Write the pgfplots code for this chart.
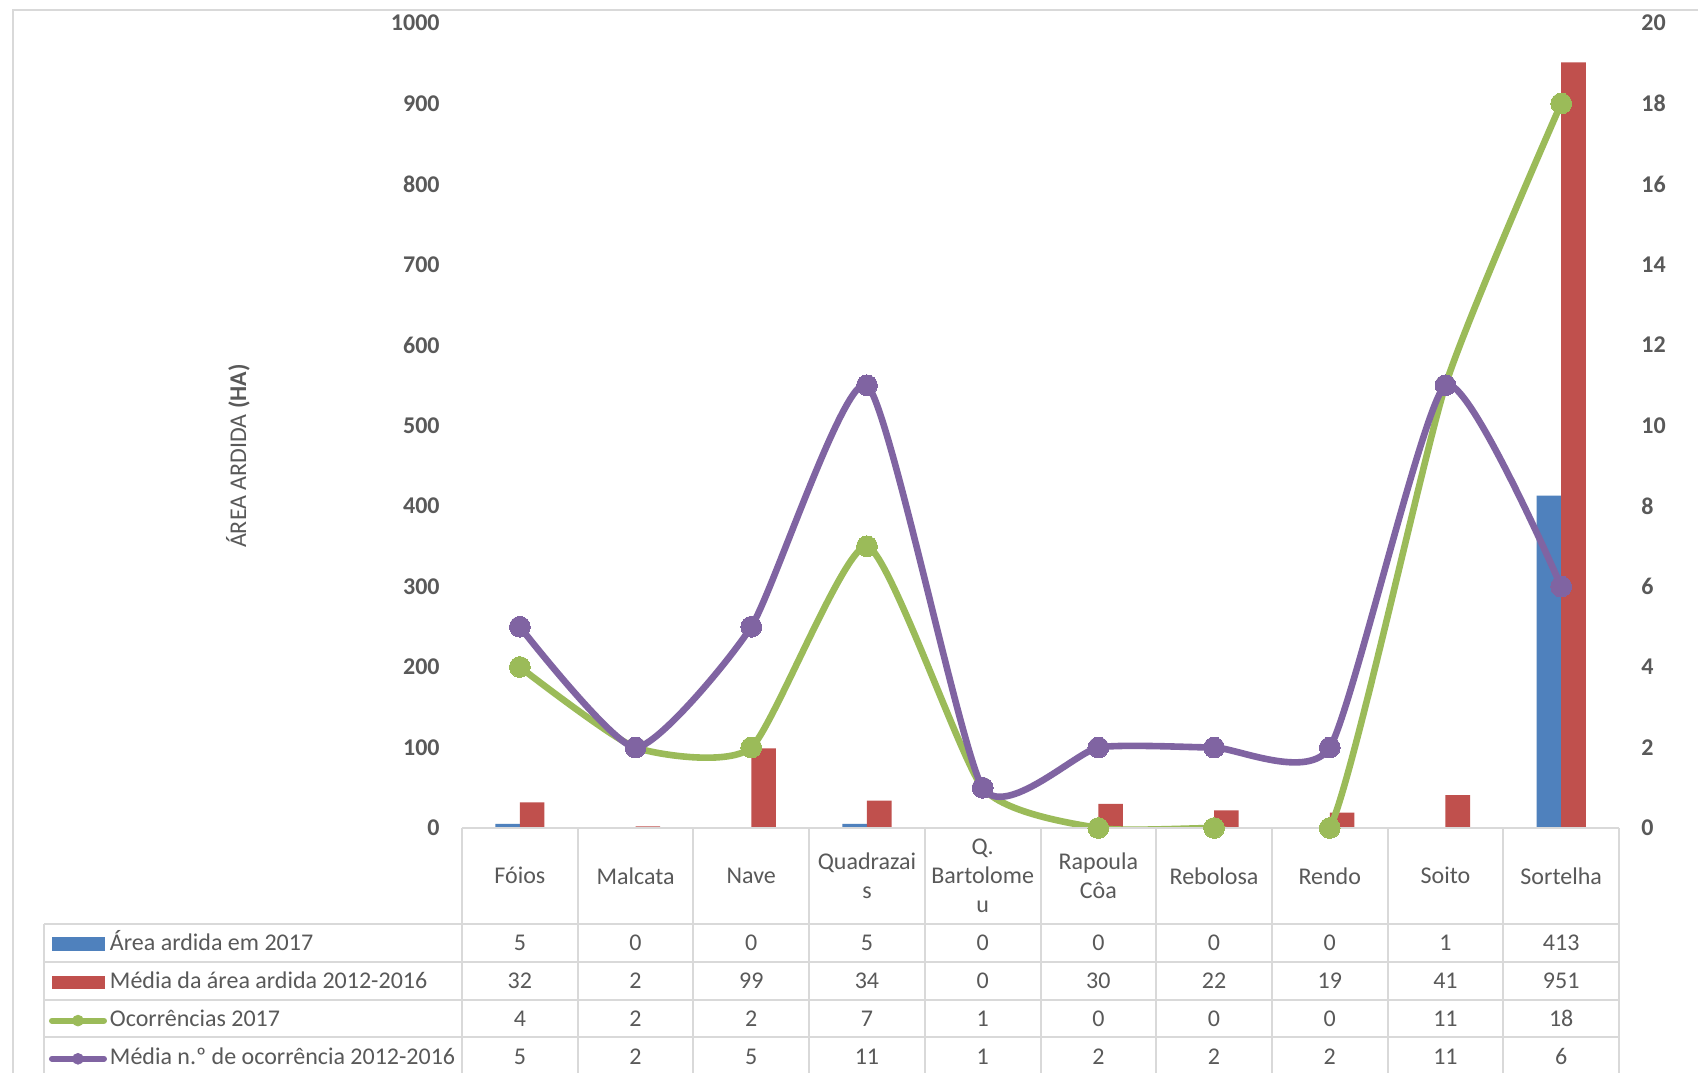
\documentclass[border=0pt]{standalone}
\usepackage{pgfplots}
\usepackage{pgfplotstable}
\pgfplotsset{compat=1.18}
\usepackage{fontspec}
\setmainfont{Carlito}
\definecolor{cblue}{HTML}{4F81BD}
\definecolor{cred}{HTML}{C0504D}
\definecolor{cgreen}{HTML}{9BBB59}
\definecolor{cpurple}{HTML}{8064A2}
\definecolor{ctext}{HTML}{595959}
\definecolor{cgrid}{HTML}{D9D9D9}
\newcommand{\tf}{\fontsize{12}{14.5}\selectfont}
\pgfplotsset{
  bluekey/.style={legend image code/.code={\fill[cblue] (0pt,-3.2pt) rectangle (26pt,3.2pt);}},
  redkey/.style={legend image code/.code={\fill[cred] (0pt,-3.2pt) rectangle (26pt,3.2pt);}},
  greenkey/.style={legend image code/.code={\draw[color=cgreen, line width=3pt, line cap=round] (0pt,0pt) -- (26pt,0pt); \fill[cgreen] (13pt,0pt) circle (2.7pt);}},
  purplekey/.style={legend image code/.code={\draw[color=cpurple, line width=3pt, line cap=round] (0pt,0pt) -- (26pt,0pt); \fill[cpurple] (13pt,0pt) circle (2.7pt);}},
  frame/.style={at={(231pt,-414pt)}, anchor=south west,
    width=578.5pt, height=402.5pt, scale only axis,
    xmin=-0.5, xmax=9.5, clip=false},
}
\pgfplotstableread{
i a b c d
0 5 32 4 5
1 0 2 2 2
2 0 99 2 5
3 5 34 7 11
4 0 0 1 1
5 0 30 0 2
6 0 22 0 2
7 0 19 0 2
8 1 41 11 11
9 413 951 18 6
}\data
\begin{document}
\begin{tikzpicture}
\useasboundingbox (0pt,0pt) rectangle (849pt,-536pt);
\fill[white] (0pt,0pt) rectangle (849pt,-536pt);
\draw[cgrid, line width=1pt] (6.5pt,-540pt) -- (6.5pt,-4.9pt) -- (852pt,-4.9pt);
% bars (left axis)
\begin{axis}[frame,
  ymin=0, ymax=1000,
  axis y line*=left, axis x line=none, xtick=\empty,
  axis line style={draw=none},
  ytick={0,100,...,1000}, major tick length=0pt,
  yticklabel style={font=\tf\bfseries, text=ctext, inner sep=0pt, xshift=-11pt},
  /pgf/number format/assume math mode=true,
  /pgf/number format/set thousands separator={},
  ybar, bar width=12.3pt,
]
\addplot[fill=cblue, draw=none, bar shift=-6.15pt] table[x=i,y=a]{\data};
\addplot[fill=cred, draw=none, bar shift=6.15pt] table[x=i,y=b]{\data};
\end{axis}
% lines (right axis)
\begin{axis}[frame,
  ymin=0, ymax=20,
  axis y line*=right, axis x line=none, xtick=\empty,
  axis line style={draw=none},
  ytick={0,2,...,20}, major tick length=0pt,
  yticklabel style={font=\tf\bfseries, text=ctext, inner sep=0pt, xshift=11pt},
  /pgf/number format/assume math mode=true,
]
\addplot[color=cgreen, line width=3.3pt, smooth, tension=0.333, no marks] table[x=i,y=c]{\data};
\addplot[color=cpurple, line width=3.3pt, smooth, tension=0.333, no marks] table[x=i,y=d]{\data};
\end{axis}
% data table (covers the curves below zero)
\fill[white] (231pt,-414pt) rectangle (809.5pt,-540pt);
\draw[cgrid, line width=1pt] (231pt,-414pt) -- (809.5pt,-414pt);
\foreach \y in {461.85,480.8,499.75,518.7}{
  \draw[cgrid, line width=1pt] (22.2pt,-\y pt) -- (809.5pt,-\y pt);
}
\draw[cgrid, line width=1pt] (22.2pt,-461.85pt) -- (22.2pt,-540pt);
\foreach \k in {0,...,10}{
  \draw[cgrid, line width=1pt] ({231pt+57.85pt*\k},-414pt) -- ({231pt+57.85pt*\k},-540pt);
}
% y label
\node[font=\tf, text=ctext, rotate=90] at (119pt,-228pt) {ÁREA ARDIDA \textbf{(HA)}};
% header
\foreach \i/\n in {0/{Fóios},1/{Malcata},2/{Nave},3/{Quadrazai\\s},4/{Q.\\Bartolome\\u},5/{Rapoula\\Côa},6/{Rebolosa},7/{Rendo},8/{Soito},9/{Sortelha}}{
  \node[font=\tf, text=ctext, align=center, inner sep=0pt] at ({259.925pt+57.85pt*\i},-437.9pt) {\n};
}
% values
\foreach \i/\a/\b/\c/\d in {0/5/32/4/5,1/0/2/2/2,2/0/99/2/5,3/5/34/7/11,4/0/0/1/1,5/0/30/0/2,6/0/22/0/2,7/0/19/0/2,8/1/41/11/11,9/413/951/18/6}{
  \node[font=\tf, text=ctext, inner sep=0pt, text height=9pt, text depth=3pt] at ({259.925pt+57.85pt*\i},-472.1pt) {\a};
  \node[font=\tf, text=ctext, inner sep=0pt, text height=9pt, text depth=3pt] at ({259.925pt+57.85pt*\i},-491.2pt) {\b};
  \node[font=\tf, text=ctext, inner sep=0pt, text height=9pt, text depth=3pt] at ({259.925pt+57.85pt*\i},-510.3pt) {\c};
  \node[font=\tf, text=ctext, inner sep=0pt, text height=9pt, text depth=3pt] at ({259.925pt+57.85pt*\i},-529.4pt) {\d};
}
% markers and legend
\begin{axis}[frame,
  ymin=0, ymax=20, hide axis,
  legend cell align=left,
  legend style={
    at={(axis description cs:-0.35696,-0.12944)}, anchor=north west,
    draw=none, fill=none, inner sep=0pt, outer sep=0pt,
    row sep=7.1pt, column sep=1.5pt,
    font=\tf, text=ctext,
    nodes={inner sep=0pt, outer sep=0pt, text height=9pt, text depth=3pt},
  },
]
\addplot[forget plot, only marks, mark=*, mark size=5.2pt,
  mark options={solid, fill=cgreen, draw=cgreen, line width=0pt}] table[x=i,y=c]{\data};
\addplot[forget plot, only marks, mark=*, mark size=5.2pt,
  mark options={solid, fill=cpurple, draw=cpurple, line width=0pt}] table[x=i,y=d]{\data};
\addlegendimage{bluekey}
\addlegendentry{Área ardida em 2017}
\addlegendimage{redkey}
\addlegendentry{Média da área ardida 2012-2016}
\addlegendimage{greenkey}
\addlegendentry{Ocorrências 2017}
\addlegendimage{purplekey}
\addlegendentry{Média n.º de ocorrência 2012-2016}
\end{axis}
\end{tikzpicture}
\end{document}
